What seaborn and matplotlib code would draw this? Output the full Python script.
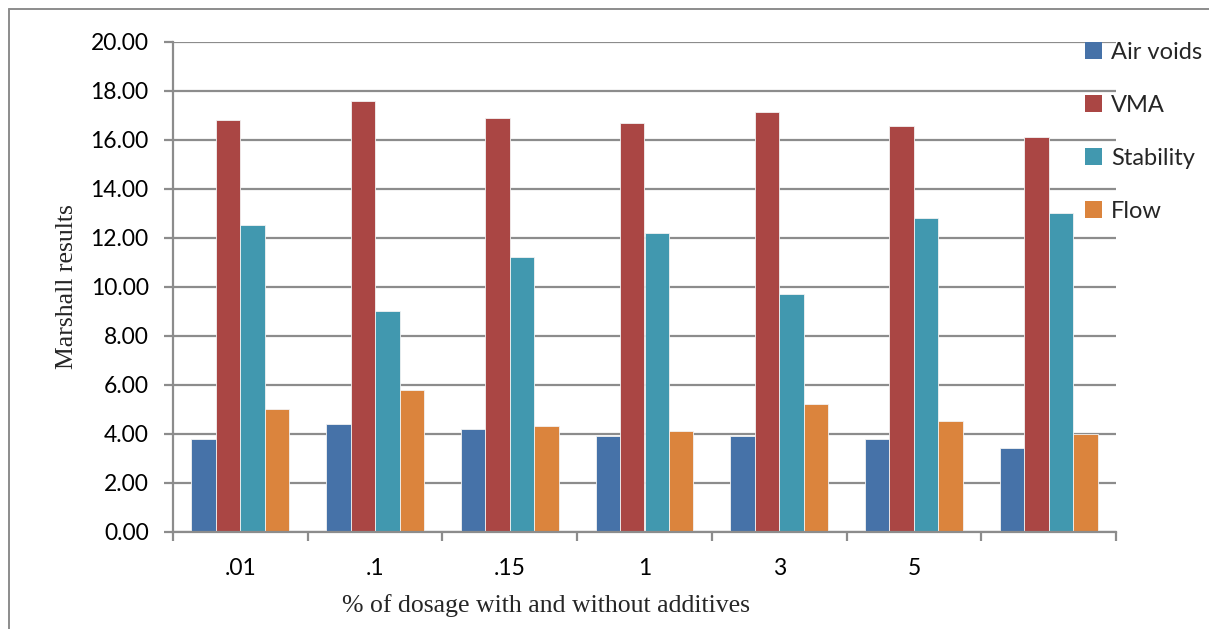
import matplotlib
matplotlib.use("Agg")
import matplotlib.pyplot as plt
import seaborn as sns
import pandas as pd
from matplotlib.lines import Line2D
from matplotlib.patches import Patch

# Marshall test results per additive dosage
dosages = [".01", ".1", ".15", "1", "3", "5", ""]
air_voids = [3.8, 4.4, 4.2, 3.9, 3.9, 3.8, 3.4]
vma = [16.8, 17.6, 16.9, 16.7, 17.15, 16.55, 16.1]
stability = [12.5, 9.0, 11.2, 12.2, 9.7, 12.8, 13.0]
flow = [5.0, 5.8, 4.3, 4.1, 5.2, 4.5, 4.0]

series_names = ["Air voids", "VMA", "Stability", "Flow"]
series_values = [air_voids, vma, stability, flow]
palette = ["#4672A8", "#AA4644", "#4198AF", "#DB843D"]

rows = []
for name, vals in zip(series_names, series_values):
    for d, v in zip(dosages, vals):
        rows.append({"dosage": d, "measure": name, "value": v})
df = pd.DataFrame(rows)

sns.set_theme(style="white")
plt.rcParams["font.family"] = ["Lato", "DejaVu Sans"]

W, H = 1209, 629
fig = plt.figure(figsize=(W / 100, H / 100), dpi=100)
ax = fig.add_axes([173 / W, 1 - 531.7 / H, (1116 - 173) / W, (531.7 - 41.7) / H])

sns.barplot(data=df, x="dosage", y="value", hue="measure", order=dosages,
            hue_order=series_names, palette=palette, width=4 / 5.5,
            saturation=1, edgecolor="#f2f2f2", linewidth=0.6, ax=ax,
            legend=False, errorbar=None)

grid_c = "#8c8c8c"
ax.set_ylim(0, 20)
ax.set_xlim(-0.5, len(dosages) - 0.5)
ax.set_yticks([0, 2, 4, 6, 8, 10, 12, 14, 16, 18, 20])
ax.set_yticklabels([f"{v:.2f}" for v in ax.get_yticks()])
ax.yaxis.grid(True, color=grid_c, linewidth=1.6)
ax.set_axisbelow(True)

# category labels at centres, tick marks on category boundaries
ax.set_xticks(range(len(dosages)))
ax.set_xticklabels(dosages)
ax.set_xticks([i - 0.5 for i in range(len(dosages) + 1)], minor=True)
ax.tick_params(axis="x", which="major", length=0, pad=19, labelsize=16.5, colors="black")
ax.tick_params(axis="x", which="minor", length=6.5, width=1.6, color=grid_c, direction="out")
ax.tick_params(axis="y", length=6.5, width=1.6, color=grid_c, direction="out",
               pad=11, labelsize=16.5, labelcolor="black")
ax.tick_params(bottom=True, left=True, which="both")

for s in ["top", "right"]:
    ax.spines[s].set_visible(False)
for s in ["left", "bottom"]:
    ax.spines[s].set_color(grid_c)
    ax.spines[s].set_linewidth(1.6)

ax.set_xlabel("% of dosage with and without additives",
              family="Liberation Serif", fontsize=18.5)
ax.xaxis.set_label_coords((546 - 173) / (1116 - 173), -(606 - 531.7) / 490, transform=ax.transAxes)
ax.xaxis.label.set_va("center")
ax.set_ylabel("Marshall results", family="Liberation Serif", fontsize=18.5, labelpad=9)

handles = [Patch(facecolor=c, edgecolor="none") for c in palette]
fig.legend(handles, series_names, loc="upper left",
           bbox_to_anchor=(1085 / W, 1 - 42 / H), frameon=False, fontsize=17,
           handlelength=0.7, handleheight=0.7, handletextpad=0.4,
           labelspacing=1.35, borderaxespad=0, borderpad=0)

# outer chart frame (left and top edges)
fig.add_artist(Line2D([8.5 / W, 8.5 / W], [0, 1 - 9 / H], transform=fig.transFigure,
                      color="#8c8c8c", linewidth=1.4))
fig.add_artist(Line2D([8.5 / W, 1], [1 - 9 / H, 1 - 9 / H], transform=fig.transFigure,
                      color="#8c8c8c", linewidth=1.4))

fig.savefig("out.png", dpi=100)
